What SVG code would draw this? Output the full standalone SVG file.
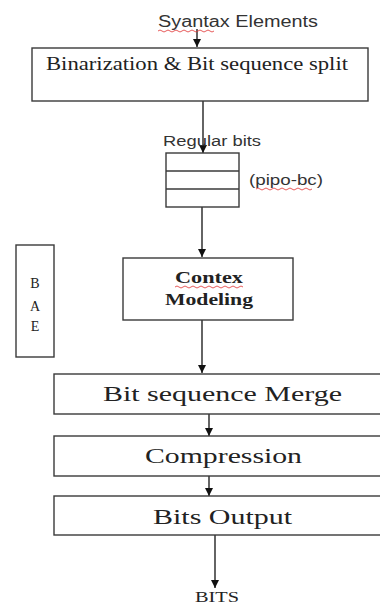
<svg xmlns="http://www.w3.org/2000/svg" width="380" height="604" viewBox="0 0 380 604">
<style>
.box{fill:#fff;stroke:#3a3a3a;stroke-width:1.4}
.ln{fill:none;stroke:#111;stroke-width:1.3}
.serif{font-family:"Liberation Serif","Times New Roman",serif;fill:#222}
.sans{font-family:"Liberation Sans",Arial,sans-serif;fill:#333}
.sq{fill:none;stroke:#e03030;stroke-width:0.8}
</style>
<defs>
<marker id="ah" viewBox="0 0 10 10" refX="10" refY="5" markerWidth="8" markerHeight="8" markerUnits="userSpaceOnUse" orient="auto">
<path d="M0,0 L10,5 L0,10 z" fill="#111"/>
</marker>
</defs>
<rect width="380" height="604" fill="#fff"/>

<g id="connectors">
<line class="ln" x1="197" y1="29" x2="197" y2="47" marker-end="url(#ah)"/>
<line class="ln" x1="203" y1="101" x2="203" y2="153" marker-end="url(#ah)"/>
<line class="ln" x1="202" y1="207" x2="202" y2="257" marker-end="url(#ah)"/>
<line class="ln" x1="202" y1="320" x2="202" y2="373" marker-end="url(#ah)"/>
<line class="ln" x1="209" y1="414" x2="209" y2="436" marker-end="url(#ah)"/>
<line class="ln" x1="209" y1="476" x2="209" y2="496" marker-end="url(#ah)"/>
<line class="ln" x1="215" y1="535" x2="215" y2="588" marker-end="url(#ah)"/>
</g>

<g id="input">
<text class="sans" x="158" y="27" font-size="16" textLength="160" lengthAdjust="spacingAndGlyphs">Syantax Elements</text>
<path class="sq" d="M158,31 q2,-2 4,0 t4,0 t4,0 t4,0 t4,0 t4,0 t4,0 t4,0 t4,0 t4,0 t4,0 t4,0 t4,0 t4,0"/>
</g>

<g id="binarization">
<rect class="box" x="32" y="48" width="336" height="53"/>
<text class="serif" x="46" y="70" font-size="19" textLength="302" lengthAdjust="spacingAndGlyphs">Binarization &amp; Bit sequence split</text>
</g>

<g id="fifo">
<text class="sans" x="163" y="146" font-size="14" textLength="98" lengthAdjust="spacingAndGlyphs">Regular bits</text>
<rect class="box" x="166" y="153" width="73" height="54"/>
<line class="box" x1="166" y1="171" x2="239" y2="171"/>
<line class="box" x1="166" y1="189" x2="239" y2="189"/>
<text class="sans" x="249" y="185" font-size="14" textLength="74" lengthAdjust="spacingAndGlyphs">(pipo-bc)</text>
<path class="sq" d="M256,189 q2,-2 4,0 t4,0 t4,0 t4,0 t4,0 t4,0 t4,0 t4,0 t4,0 t4,0 t4,0 t4,0 t4,0 t4,0"/>
</g>

<g id="bae">
<rect class="box" x="16" y="245" width="38" height="112"/>
<text class="serif" x="35" y="288" font-size="14" text-anchor="middle">B</text>
<text class="serif" x="35" y="311" font-size="14" text-anchor="middle">A</text>
<text class="serif" x="35" y="331" font-size="14" text-anchor="middle">E</text>
</g>

<g id="context">
<rect class="box" x="123" y="258" width="170" height="62"/>
<text class="serif" x="175" y="283" font-size="17" font-weight="bold" textLength="68" lengthAdjust="spacingAndGlyphs">Contex</text>
<path class="sq" d="M175,287 q2,-2 4,0 t4,0 t4,0 t4,0 t4,0 t4,0 t4,0 t4,0 t4,0 t4,0 t4,0 t4,0 t4,0 t4,0 t4,0 t4,0 t4,0"/>
<text class="serif" x="165" y="305" font-size="17" font-weight="bold" textLength="88" lengthAdjust="spacingAndGlyphs">Modeling</text>
</g>

<g id="merge">
<rect class="box" x="54" y="374" width="340" height="40"/>
<text class="serif" x="103" y="401" font-size="20" textLength="239" lengthAdjust="spacingAndGlyphs">Bit sequence Merge</text>
</g>

<g id="compression">
<rect class="box" x="54" y="436" width="340" height="40"/>
<text class="serif" x="145" y="463" font-size="20" textLength="157" lengthAdjust="spacingAndGlyphs">Compression</text>
</g>

<g id="output">
<rect class="box" x="54" y="496" width="340" height="39"/>
<text class="serif" x="153" y="524" font-size="20" textLength="139" lengthAdjust="spacingAndGlyphs">Bits Output</text>
</g>

<g id="bits">
<text class="serif" x="195" y="602" font-size="14" textLength="44" lengthAdjust="spacingAndGlyphs">BITS</text>
</g>
</svg>
